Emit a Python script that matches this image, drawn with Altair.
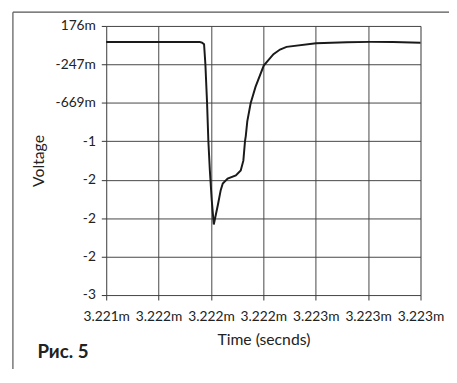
import altair as alt
import pandas as pd

# Time in milliseconds (labels carry the "m" suffix), voltage in volts
time_ms = [3.2214, 3.221900, 3.221912, 3.221923, 3.221930, 3.221939, 3.221946,
           3.221954, 3.221964, 3.221975, 3.221997, 3.222012, 3.222023, 3.222049,
           3.222093, 3.222119, 3.222133, 3.222142, 3.222146, 3.222154, 3.222172,
           3.222198, 3.222242, 3.222294, 3.222329, 3.222364, 3.222522, 3.222686,
           3.222811, 3.222933, 3.22308]
voltage = [0.000, 0.000, -0.0075, -0.024, -0.242, -0.666, -1.087,
           -1.411, -1.735, -2.004, -1.788, -1.627, -1.554, -1.500,
           -1.465, -1.411, -1.303, -1.087, -1.033, -0.871, -0.673,
           -0.493, -0.259, -0.134, -0.083, -0.054, -0.015, -0.002,
           0.001, -0.001, -0.0075]

x_ticks = [3.2214, 3.22168, 3.22196, 3.22224, 3.22252, 3.2228, 3.22308]
x_labels = ["3.221m", "3.222m", "3.222m", "3.222m", "3.223m", "3.223m", "3.223m"]
y_ticks = [0.176, -0.247, -0.669, -1.091, -1.513, -1.935, -2.357, -2.779]
y_labels = ["176m", "-247m", "-669m", "-1", "-2", "-2", "-2", "-3"]
caption = ["Рис. 5"]

df = pd.DataFrame({"t": time_ms, "v": voltage})

def label_expr(vals, labels):
    v = "[" + ",".join(repr(x) for x in vals) + "]"
    l = "[" + ",".join("'" + s + "'" for s in labels) + "]"
    return f"{l}[indexof({v}, datum.value)]"

FONT = "Lato"
axis_common = dict(
    grid=True, gridColor="#444444", gridWidth=1, gridOpacity=1,
    domain=False, ticks=True, tickColor="#333333", tickSize=5, tickWidth=1,
    labelFont=FONT, labelFontSize=14, labelColor="#222222",
    labelOverlap=False, labelFlush=False, labelBound=False,
    titleFont=FONT, titleFontSize=16, titleFontWeight="normal", titleColor="#222222",
)

line = alt.Chart(df).mark_line(color="#1a1a1a", strokeWidth=2).encode(
    x=alt.X("t:Q", title="Time (secnds)",
            scale=alt.Scale(domain=[x_ticks[0], x_ticks[-1]], nice=False, zero=False),
            axis=alt.Axis(values=x_ticks, labelExpr=label_expr(x_ticks, x_labels),
                          labelPadding=10, titlePadding=8, **axis_common)),
    y=alt.Y("v:Q", title="Voltage",
            scale=alt.Scale(domain=[y_ticks[-1], y_ticks[0]], nice=False, zero=False),
            axis=alt.Axis(values=y_ticks, labelExpr=label_expr(y_ticks, y_labels),
                          labelPadding=6, titlePadding=9, **axis_common)),
)

one = pd.DataFrame({"a": [0]})
frame_top = alt.Chart(one).mark_rule(color="#555555", strokeWidth=1.2).encode(
    x=alt.value(-95), x2=alt.value(349), y=alt.value(-14))
frame_left = alt.Chart(one).mark_rule(color="#555555", strokeWidth=1.2).encode(
    x=alt.value(-95), y=alt.value(-14), y2=alt.value(360))

cap = alt.Chart(pd.DataFrame({"c": caption})).mark_text(
    font=FONT, fontSize=19, fontWeight="bold", color="#222222",
    align="left", baseline="alphabetic").encode(
    text="c:N", x=alt.value(-70), y=alt.value(338))

chart = alt.layer(frame_top, frame_left, line, cap).properties(
    width=320, height=274,
    autosize=alt.AutoSizeParams(type="none"),
    padding={"left": 100, "top": 15, "right": 29, "bottom": 72},
).configure_view(stroke="#444444", strokeWidth=1).configure(background="white")

chart.save("out.html", embed_options={"renderer": "svg", "actions": False})
